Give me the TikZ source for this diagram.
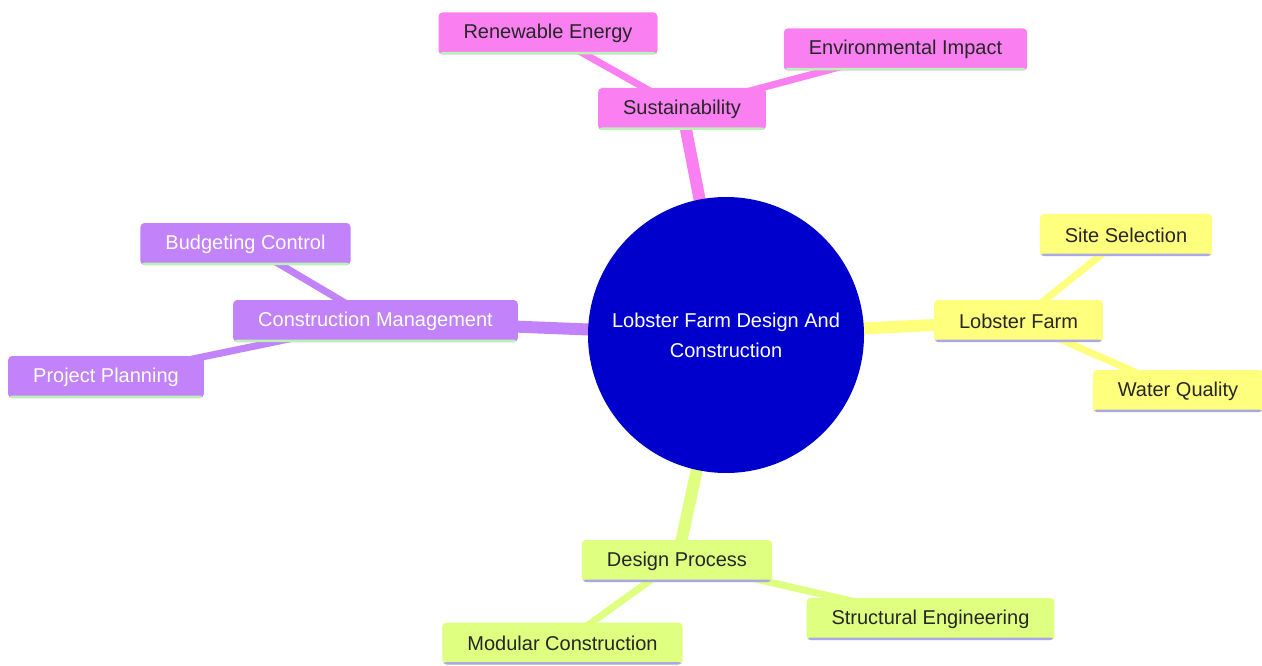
\documentclass[tikz,border=0pt]{standalone}
\usepackage{fontspec}
\setmainfont{Liberation Sans}
\usetikzlibrary{backgrounds}
\definecolor{cblue}{HTML}{0000CC}
\definecolor{cpink}{HTML}{FA80F2}
\definecolor{cyel}{HTML}{FFFF7E}
\definecolor{clime}{HTML}{DEFF80}
\definecolor{cpurp}{HTML}{C182FA}
\definecolor{ugreen}{HTML}{B9F2B4}
\definecolor{ulav}{HTML}{ABA8E6}
\tikzset{
  box/.style={rectangle, rounded corners=4pt, inner xsep=25pt, inner ysep=0pt,
    minimum height=42pt, font=\fontsize{20}{24}\selectfont,
    path picture={\fill[#1] ([yshift=-1pt]path picture bounding box.south west) rectangle ([yshift=2.5pt]path picture bounding box.south east);}},
  pinkbox/.style={box=ugreen, fill=cpink, text=black!85},
  yelbox/.style={box=ulav, fill=cyel, text=black!85},
  limebox/.style={box=ulav, fill=clime, text=black!85},
  purpbox/.style={box=ugreen, fill=cpurp, text=white},
  mainedge/.style={line width=12pt},
  subedge/.style={line width=7pt},
}
\begin{document}
\begin{tikzpicture}[x=1pt,y=-1pt]
\useasboundingbox (0,0) rectangle (1262,666);
\node[circle, fill=cblue, minimum size=276pt, inner sep=0pt, text=white, align=center,
  font=\fontsize{20}{30}\selectfont] (root) at (726,335) {Lobster Farm Design And\\Construction};
\node[pinkbox] (sust) at (682,109) {Sustainability};
\node[pinkbox] (ren) at (548,33.5) {Renewable Energy};
\node[pinkbox] (env) at (905.5,49.5) {Environmental Impact};
\node[yelbox] (lob) at (1018.5,321) {Lobster Farm};
\node[yelbox] (site) at (1126,235) {Site Selection};
\node[yelbox] (water) at (1178,391) {Water Quality};
\node[limebox] (des) at (677,561) {Design Process};
\node[limebox] (struct) at (930.5,619) {Structural Engineering};
\node[limebox] (mod) at (562.5,643.5) {Modular Construction};
\node[purpbox] (cm) at (375.5,321) {Construction Management};
\node[purpbox] (bud) at (245.5,244) {Budgeting Control};
\node[purpbox] (pp) at (106,377) {Project Planning};
\begin{scope}[on background layer]
\draw[mainedge, cpink] (root.center) -- (sust.center);
\draw[subedge, cpink] (sust.center) -- (ren.center);
\draw[subedge, cpink] (sust.center) -- (env.center);
\draw[mainedge, cyel] (root.center) -- (lob.center);
\draw[subedge, cyel] (lob.center) -- (site.center);
\draw[subedge, cyel] (lob.center) -- (water.center);
\draw[mainedge, clime] (root.center) -- (des.center);
\draw[subedge, clime] (des.center) -- (struct.center);
\draw[subedge, clime] (des.center) -- (mod.center);
\draw[mainedge, cpurp] (root.center) -- (cm.center);
\draw[subedge, cpurp] (cm.center) -- (bud.center);
\draw[subedge, cpurp] (cm.center) -- (pp.center);
\end{scope}
\end{tikzpicture}
\end{document}
